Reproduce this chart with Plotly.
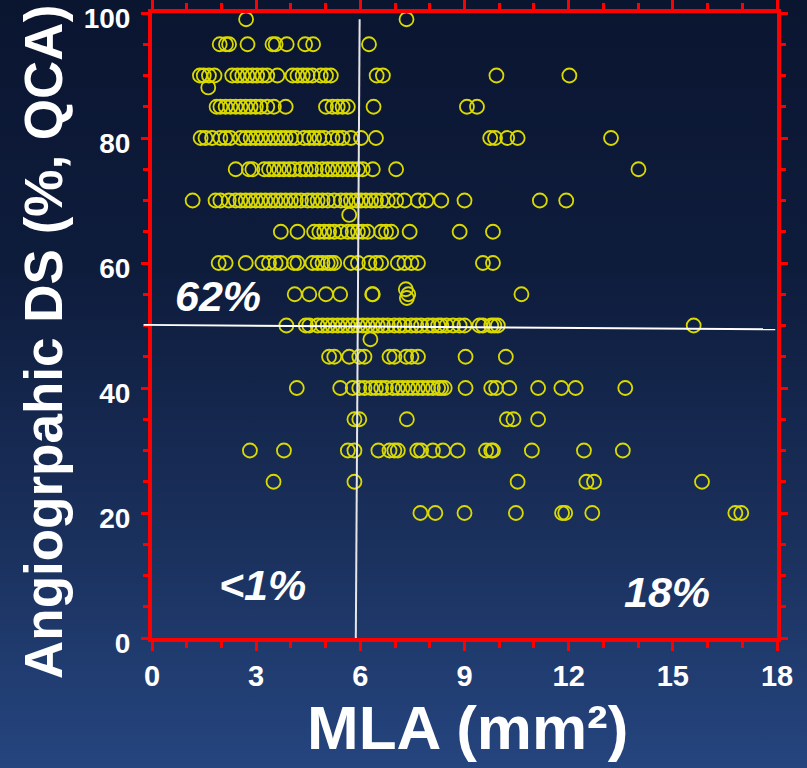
import base64
import plotly.graph_objects as go

# ---------------- data ----------------
# MLA (mm2) values of the points lying on each angiographic DS level (%)
mla_ds99 = [2.71, 7.33]
mla_ds95 = [1.95, 2.13, 2.22, 2.75, 3.47, 3.56, 3.88, 4.41, 4.64, 6.25]
mla_ds90 = [1.38, 1.49, 1.64, 1.80, 2.31, 2.46, 2.60, 2.75, 2.89, 3.03, 3.18, 3.32,
            3.61, 4.05, 4.19, 4.34, 4.48, 4.62, 4.86, 5.01, 5.15, 6.47, 6.65, 9.92, 12.02]
mla_ds85 = [1.86, 1.97, 2.12, 2.26, 2.41, 2.55, 2.70, 2.84, 2.99, 3.13, 3.32, 3.51,
            3.85, 5.01, 5.20, 5.35, 5.49, 5.64, 6.38, 9.07, 9.36]
mla_ds80 = [1.40, 1.54, 1.73, 1.97, 2.12, 2.26, 2.55, 2.70, 2.84, 2.99, 3.13, 3.27,
            3.42, 3.56, 3.71, 3.85, 4.00, 4.14, 4.38, 4.53, 4.67, 4.82, 4.96, 5.20,
            5.35, 5.49, 5.73, 6.02, 6.45, 9.74, 9.88, 10.23, 10.53, 13.22]
mla_ds75 = [2.41, 2.79, 2.89, 3.23, 3.37, 3.51, 3.66, 3.80, 3.95, 4.09, 4.29, 4.43,
            4.58, 4.72, 4.91, 5.06, 5.20, 5.35, 5.49, 5.64, 5.78, 5.93, 6.07, 6.36,
            7.03, 14.01]
mla_ds70 = [1.17, 1.83, 1.97, 2.21, 2.41, 2.55, 2.70, 2.84, 2.99, 3.13, 3.27, 3.42,
            3.56, 3.71, 3.85, 4.00, 4.14, 4.29, 4.48, 4.62, 4.77, 4.91, 5.06, 5.25,
            5.44, 5.59, 5.73, 5.88, 6.02, 6.16, 6.31, 6.45, 6.60, 6.79, 7.03, 7.27,
            7.66, 7.90, 8.33, 9.00, 11.17, 11.93]
mla_ds65 = [3.71, 4.19, 4.67, 4.82, 4.96, 5.10, 5.25, 5.44, 5.64, 5.78, 5.93, 6.07,
            6.21, 6.60, 6.74, 6.89, 7.42, 8.86, 9.82]
mla_ds60 = [1.92, 2.12, 2.70, 3.18, 3.37, 3.56, 3.71, 4.09, 4.19, 4.62, 4.77, 4.91,
            5.06, 5.15, 5.25, 5.73, 5.93, 6.26, 6.45, 6.60, 7.08, 7.27, 7.47, 7.66,
            9.53, 9.82]
mla_ds55 = [4.11, 4.53, 5.01, 5.42, 6.34, 6.36, 10.64]
mla_ds50 = [3.87, 4.43, 4.53, 4.77, 4.91, 5.06, 5.20, 5.35, 5.49, 5.64, 5.78, 5.93,
            6.07, 6.21, 6.36, 6.50, 6.65, 6.79, 6.98, 7.13, 7.27, 7.47, 7.61, 7.75,
            7.95, 8.09, 8.24, 8.33, 8.48, 8.67, 8.86, 9.00, 9.43, 9.53, 9.77, 9.86,
            9.96, 15.60]
mla_ds45 = [5.10, 5.25, 5.68, 5.97, 6.12, 6.84, 6.98, 7.32, 7.47, 7.66, 9.03, 10.19]
mla_ds40 = [4.17, 5.42, 5.78, 5.97, 6.12, 6.31, 6.45, 6.60, 6.74, 6.94, 7.08, 7.22,
            7.37, 7.51, 7.66, 7.80, 7.95, 8.09, 8.24, 8.33, 8.43, 9.03, 9.77, 9.91,
            10.29, 11.12, 11.79, 12.20, 13.63]
mla_ds35 = [5.83, 5.97, 7.34, 10.22, 10.41, 11.12]
mla_ds30 = [2.82, 3.80, 5.64, 5.83, 6.52, 6.84, 6.98, 7.08, 7.64, 7.75, 8.09, 8.38,
            8.80, 9.62, 9.77, 9.82, 10.94, 12.44, 13.56]
mla_ds25 = [3.50, 5.83, 10.53, 12.51, 12.73, 15.84]
mla_ds20 = [7.73, 8.16, 9.00, 10.48, 11.81, 11.90, 12.68, 16.80, 16.97]

ds_levels = [99, 95, 90, 85, 80, 75, 70, 65, 60, 55, 50, 45, 40, 35, 30, 25, 20]
mla_rows = [mla_ds99, mla_ds95, mla_ds90, mla_ds85, mla_ds80, mla_ds75, mla_ds70,
            mla_ds65, mla_ds60, mla_ds55, mla_ds50, mla_ds45, mla_ds40, mla_ds35,
            mla_ds30, mla_ds25, mla_ds20]

# a few points off the regular DS levels
extra_mla = [1.62, 5.68, 7.31, 7.38, 7.34, 6.29]
extra_ds = [88.1, 67.7, 55.8, 55.0, 54.4, 47.8]

# cut-off reference lines (as drawn, slightly tilted in the original)
mla_cut_line = [(5.98, 99.0), (5.87, 0.0)]
ds_cut_line = [(-0.24, 50.1), (17.95, 49.4)]

quadrant_labels = ["62%", "<1%", "18%"]
quadrant_pos = [(1.90, 54.7), (3.19, 8.5), (14.82, 7.3)]

x_range = [0, 18]
y_range = [0, 100]

# ---------------- build ----------------
mla = []
ds = []
for lvl, row in zip(ds_levels, mla_rows):
    mla.extend(row)
    ds.extend([lvl] * len(row))
mla.extend(extra_mla)
ds.extend(extra_ds)

W, H = 807, 768
ML, MR, MT, MB = 152, 30, 13, 130
PW, PH = W - ML - MR, H - MT - MB

fig = go.Figure()
fig.add_trace(go.Scatter(
    x=mla, y=ds, mode="markers",
    marker=dict(symbol="circle-open", size=14, color="rgb(218,218,0)",
                line=dict(width=1.8, color="rgb(218,218,0)")),
    hoverinfo="skip", showlegend=False,
))

# gradient background as an inline SVG image
svg = (
    f'<svg xmlns="http://www.w3.org/2000/svg" width="{W}" height="{H}" '
    f'viewBox="0 0 {W} {H}" preserveAspectRatio="none">'
    '<defs><linearGradient id="g" x1="0" y1="0" x2="0" y2="1">'
    '<stop offset="0" stop-color="#0a1530"/>'
    '<stop offset="0.35" stop-color="#0e1c3c"/>'
    '<stop offset="0.7" stop-color="#1a305c"/>'
    '<stop offset="1" stop-color="#25457f"/>'
    '</linearGradient></defs>'
    f'<rect width="{W}" height="{H}" fill="url(#g)"/></svg>'
)
uri = "data:image/svg+xml;base64," + base64.b64encode(svg.encode()).decode()

red = "#ff0000"
FONT = "Liberation Sans, Arial, sans-serif"
tickfont_x = dict(family=FONT, size=29, color="white", weight="bold")
tickfont_y = dict(family=FONT, size=28, color="white", weight="bold")

fig.update_layout(
    width=W, height=H,
    margin=dict(l=ML, r=MR, t=MT, b=MB),
    paper_bgcolor="#152650",
    plot_bgcolor="rgba(0,0,0,0)",
    images=[dict(source=uri, xref="paper", yref="paper",
                 x=-ML / PW, y=1 + MT / PH, sizex=W / PW, sizey=H / PH,
                 xanchor="left", yanchor="top", sizing="stretch", layer="below")],
    xaxis=dict(range=x_range, showgrid=False, zeroline=False, automargin=False,
               showline=True, linecolor=red, linewidth=4, mirror="ticks",
               ticks="outside", tick0=0, dtick=3, ticklen=9, tickwidth=3, tickcolor=red,
               minor=dict(dtick=1, ticks="outside", ticklen=6, tickwidth=3, tickcolor=red),
               tickfont=tickfont_x, ticklabelstandoff=0, ticklabeloverflow="allow"),
    yaxis=dict(range=y_range, showgrid=False, zeroline=False, automargin=False,
               showline=True, linecolor=red, linewidth=4, mirror="ticks",
               ticks="outside", tick0=0, dtick=20, ticklen=7, tickwidth=3, tickcolor=red,
               minor=dict(dtick=5, ticks="outside", ticklen=5, tickwidth=3, tickcolor=red),
               tickfont=tickfont_y, ticklabelstandoff=5, ticklabelshift=5,
               ticklabeloverflow="allow"),
)

# reference lines
(vx0, vy0), (vx1, vy1) = mla_cut_line
fig.add_shape(type="line", xref="x", yref="y", x0=vx0, y0=vy0, x1=vx1, y1=vy1,
              line=dict(color="#e6e6e6", width=2))
(hx0, hy0), (hx1, hy1) = ds_cut_line
xs = x_range[1] - x_range[0]
ys = y_range[1] - y_range[0]
fig.add_shape(type="line", xref="paper", yref="paper",
              x0=(hx0 - x_range[0]) / xs, y0=(hy0 - y_range[0]) / ys,
              x1=(hx1 - x_range[0]) / xs, y1=(hy1 - y_range[0]) / ys,
              line=dict(color="white", width=2))

# quadrant percentages
for txt, (qx, qy) in zip(quadrant_labels, quadrant_pos):
    fig.add_annotation(x=qx, y=qy, xref="x", yref="y", text=txt, showarrow=False,
                       xanchor="center", yanchor="middle",
                       font=dict(family=FONT, size=43, color="white",
                                 weight="bold", style="italic"))

# axis titles
title_font = dict(family=FONT, color="white", weight="bold")
fig.add_annotation(text="Angiogrpahic DS (%, QCA)", textangle=-90, showarrow=False,
                   xref="paper", yref="paper", x=(43 - ML) / PW, y=(MT + PH - 342) / PH,
                   xanchor="center", yanchor="middle", font=dict(size=53, **title_font))
fig.add_annotation(text="MLA (mm²)", showarrow=False,
                   xref="paper", yref="paper", x=(467.5 - ML) / PW, y=(MT + PH - 728) / PH,
                   xanchor="center", yanchor="middle", font=dict(size=62, **title_font))

fig.write_html("out.html")
